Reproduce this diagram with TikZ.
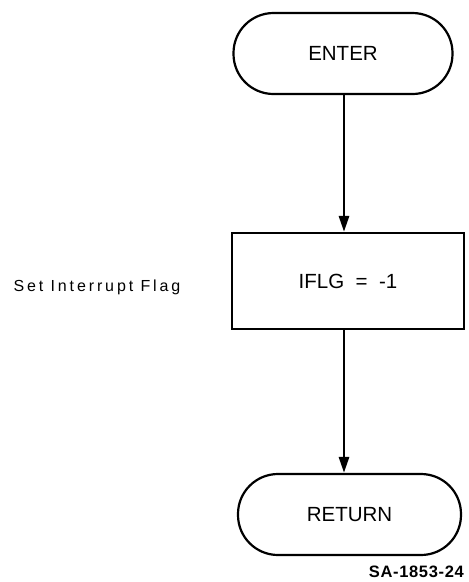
\documentclass[tikz,border=0pt]{standalone}
\usepackage{fontspec}
\setmainfont{Liberation Sans}
\newfontfamily\spacedfont[LetterSpace=18]{Liberation Sans}
\newfontfamily\tagfont[LetterSpace=4]{Liberation Sans}
\usetikzlibrary{arrows.meta}
\begin{document}
\begin{tikzpicture}[x=1pt,y=-1pt,
  term/.style={draw, line width=2.2pt, rounded corners=40pt, minimum height=81pt, inner sep=0pt, font=\fontsize{20.5}{24}\selectfont},
  procbox/.style={draw, line width=2.2pt, minimum width=232pt, minimum height=96pt, inner sep=0pt, font=\fontsize{20.5}{24}\selectfont},
  flow/.style={line width=2.8pt, -{Triangle[length=16pt,width=10pt]}}]
\useasboundingbox (0,0) rectangle (469,582);
\node[term, minimum width=219pt] (enter) at (343,53.5) {ENTER};
\node[procbox] (box) at (348,281) {IFLG\ \ =\ \ -1};
\node[term, minimum width=223pt] (ret) at (349.5,514.5) {RETURN};
\node[anchor=west, font=\spacedfont\fontsize{16}{19}\selectfont] (lbl) at (10,287) {Set Interrupt Flag};
\node[anchor=east, font=\tagfont\bfseries\fontsize{16.5}{19}\selectfont, inner sep=0pt] (tag) at (464,572) {SA-1853-24};
\coordinate (a1) at (344,0);
\draw[flow] (enter.south -| a1) -- (box.north -| a1);
\draw[flow] (box.south -| a1) -- (ret.north -| a1);
\end{tikzpicture}
\end{document}
